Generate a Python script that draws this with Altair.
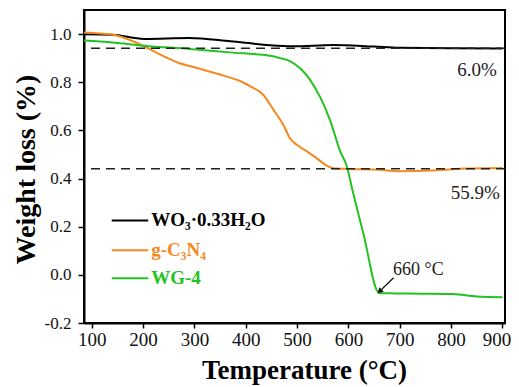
import altair as alt
import pandas as pd

# ---- data ----
series_names = ["WO₃·0.33H₂O", "g-C₃N₄", "WG-4"]
series_colors = ["#000000", "#F5891F", "#22C322"]

T_wo3 = [85, 140, 202, 290, 370, 440, 492, 570, 650, 700, 800, 900]
w_wo3 = [0.999, 0.997, 0.98, 0.984, 0.97, 0.955, 0.949, 0.955, 0.948, 0.943, 0.941, 0.94]

T_gcn = [85, 140, 188, 227, 266, 305, 350, 390, 409, 434, 454, 473, 486, 499, 519, 538, 558, 570, 600,
         650, 700, 760, 817, 900]
w_gcn = [1.007, 0.998, 0.963, 0.922, 0.883, 0.859, 0.832, 0.804, 0.783, 0.748, 0.686, 0.624, 0.568, 0.541,
         0.513, 0.485, 0.453, 0.443, 0.44, 0.438, 0.43, 0.433, 0.441, 0.444]

T_wg4 = [85, 140, 202, 291, 369, 447, 467, 486, 506, 525, 545, 564, 584, 597, 607, 629, 660, 690, 750, 804,
         850, 900]
w_wg4 = [0.973, 0.965, 0.952, 0.938, 0.924, 0.91, 0.900, 0.888, 0.858, 0.811, 0.738, 0.644, 0.513, 0.45,
         0.36, 0.173, -0.076, -0.077, -0.078, -0.08, -0.09, -0.093]

ref_levels = [0.941, 0.441]

ann_text = ["6.0%", "55.9%"]
ann_T = [889, 895]
ann_v = [0.852, 0.341]

peak_label = "660 °C"
peak_label_T = 687
peak_label_v = 0.021
arrow_T = [688, 662]
arrow_v = [-0.012, -0.066]

legend_v = [0.226, 0.102, -0.014]
legend_line_T = [139, 210]
legend_text_T = 216

# ---- tables ----
rows = []
for name, Ts, ws in zip(series_names, [T_wo3, T_gcn, T_wg4], [w_wo3, w_gcn, w_wg4]):
    for t, w in zip(Ts, ws):
        rows.append({"series": name, "T": t, "w": w})
df = pd.DataFrame(rows)

color_scale = alt.Scale(domain=series_names, range=series_colors)
xs = alt.Scale(domain=[85, 905], nice=False, zero=False)
ys = alt.Scale(domain=[-0.2, 1.1], nice=False, zero=False)

FONT = "Liberation Serif"

x_axis = alt.Axis(
    title="Temperature (°C)",
    values=list(range(100, 901, 50)),
    labelExpr="datum.value % 100 === 0 ? datum.label : ''",
    format="d",
    tickSize=5,
    labelPadding=2,
    labelOffset={"condition": {"test": "datum.value === 900", "value": -6}, "value": 0},
    titlePadding=8,
    titleX=220,
    labelFont=FONT,
    labelFontSize=19,
    titleFont=FONT,
    titleFontSize=27,
    titleFontWeight="bold",
)
y_axis = alt.Axis(
    title="Weight loss (%)",
    values=[round(-0.2 + 0.1 * i, 1) for i in range(13)],
    labelExpr="round(datum.value * 10) % 2 === 0 ? replace(format(datum.value, '.1f'), '\u2212', '-') : ''",
    tickSize=6,
    labelPadding=7,
    titlePadding=4,
    titleY=159,
    labelFont=FONT,
    labelFontSize=17,
    titleFont=FONT,
    titleFontSize=28,
    titleFontWeight="bold",
)

base = alt.Chart(df)

lines = base.mark_line(strokeWidth=2, interpolate="monotone").encode(
    x=alt.X("T:Q", scale=xs, axis=x_axis),
    y=alt.Y("w:Q", scale=ys, axis=y_axis),
    color=alt.Color("series:N", scale=color_scale, legend=None),
    order=alt.Order("T:Q"),
)

dashed = alt.Chart(pd.DataFrame({"v": ref_levels})).mark_rule(
    strokeDash=[9, 6], strokeWidth=1.5, color="#222222"
).encode(y=alt.Y("v:Q", scale=ys))

leg_df = pd.DataFrame({
    "series": series_names,
    "v": legend_v,
    "x1": [legend_line_T[0]] * 3,
    "x2": [legend_line_T[1]] * 3,
    "xt": [legend_text_T] * 3,
})
leg_lines = alt.Chart(leg_df).mark_rule(strokeWidth=2).encode(
    x=alt.X("x1:Q", scale=xs), x2="x2:Q", y=alt.Y("v:Q", scale=ys),
    color=alt.Color("series:N", scale=color_scale, legend=None),
)
leg_text = alt.Chart(leg_df).mark_text(
    align="left", baseline="middle", font=FONT, fontSize=19, fontWeight="bold"
).encode(
    x=alt.X("xt:Q", scale=xs), y=alt.Y("v:Q", scale=ys), text="series:N",
    color=alt.Color("series:N", scale=color_scale, legend=None),
)

ann = alt.Chart(pd.DataFrame({"t": ann_text, "T": ann_T, "v": ann_v})).mark_text(
    align="right", baseline="middle", font=FONT, fontSize=19, color="#222222"
).encode(x=alt.X("T:Q", scale=xs), y=alt.Y("v:Q", scale=ys), text="t:N")

peak = alt.Chart(pd.DataFrame({"t": [peak_label], "T": [peak_label_T], "v": [peak_label_v]})).mark_text(
    align="left", baseline="middle", font=FONT, fontSize=18, color="#222222"
).encode(x=alt.X("T:Q", scale=xs), y=alt.Y("v:Q", scale=ys), text="t:N")

arrow_line = alt.Chart(pd.DataFrame({"T": [arrow_T[0]], "v": [arrow_v[0]], "T2": [arrow_T[1]], "v2": [arrow_v[1]]})).mark_rule(
    strokeWidth=1.2, color="#111111"
).encode(x=alt.X("T:Q", scale=xs), y=alt.Y("v:Q", scale=ys), x2="T2:Q", y2="v2:Q")

arrow_head = alt.Chart(pd.DataFrame({"T": [arrow_T[1]], "v": [arrow_v[1]]})).mark_point(
    shape="triangle", filled=True, size=40, angle=225, color="#111111", opacity=1
).encode(x=alt.X("T:Q", scale=xs), y=alt.Y("v:Q", scale=ys))

chart = alt.layer(
    lines, dashed, leg_lines, leg_text, ann, peak, arrow_line, arrow_head
).properties(
    width=421,
    height=313,
    autosize=alt.AutoSizeParams(type="none"),
    padding={"left": 76, "top": 2, "right": 6, "bottom": 62},
).configure(font=FONT).configure_axis(
    labelColor="#111111",
    titleColor="#000000",
    domainColor="#000000",
    domainWidth=2,
    tickColor="#000000",
    tickWidth=1.5,
    grid=False,
).configure_view(stroke="#000000", strokeWidth=2)

chart.save("out.html", embed_options={"renderer": "svg", "actions": False})
